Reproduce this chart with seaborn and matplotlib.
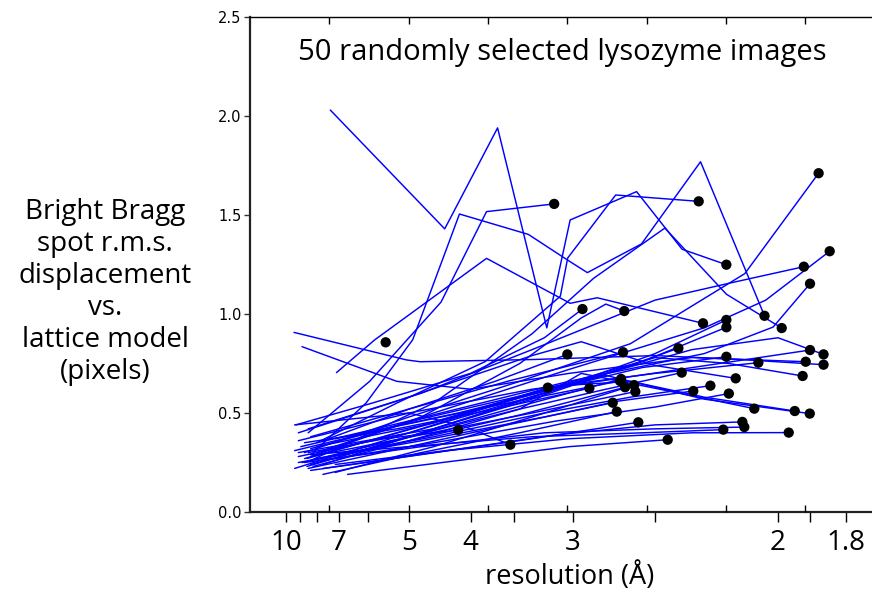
import matplotlib
matplotlib.use("Agg")
import matplotlib.pyplot as plt
import numpy as np
import pandas as pd
import seaborn as sns

# ---------------- data: (inverse resolution 1/Å, r.m.s. displacement px) ----------------
img01 = [(0.136, 2.03), (0.229, 1.43), (0.272, 1.94), (0.312, 0.93), (0.331, 1.475),
         (0.385, 1.618), (0.422, 1.327), (0.458, 1.249)]
img02 = [(0.118, 0.40), (0.168, 0.66), (0.226, 1.06), (0.263, 1.517), (0.318, 1.556)]
img03 = [(0.122, 0.30), (0.165, 0.55), (0.203, 0.87), (0.241, 1.505), (0.297, 1.402),
         (0.331, 1.264), (0.345, 1.209), (0.389, 1.354), (0.437, 1.769), (0.489, 0.991)]
img04 = [(0.125, 0.35), (0.190, 0.55), (0.262, 0.76), (0.323, 1.09), (0.329, 1.283),
         (0.368, 1.601), (0.4355, 1.569)]
img05 = [(0.141, 0.704), (0.172, 0.869), (0.263, 1.281), (0.331, 1.054), (0.353, 1.082),
         (0.439, 0.953)]
img06 = [(0.181, 0.857)]
img07 = [(0.115, 0.30), (0.200, 0.48), (0.290, 0.66), (0.380, 0.85), (0.473, 1.204), (0.533, 1.711)]
img08 = [(0.120, 0.28), (0.220, 0.50), (0.330, 0.72), (0.440, 0.93), (0.490, 1.07), (0.542, 1.317)]
img09 = [(0.118, 0.42), (0.210, 0.60), (0.300, 0.82), (0.400, 1.07), (0.460, 1.155), (0.521, 1.239)]
img10 = [(0.112, 0.33), (0.200, 0.46), (0.330, 0.66), (0.440, 0.80), (0.496, 0.934), (0.526, 1.153)]
img11 = [(0.108, 0.44), (0.170, 0.55), (0.250, 0.70), (0.310, 0.88), (0.341, 1.025)]
img12 = [(0.125, 0.30), (0.210, 0.48), (0.290, 0.75), (0.340, 0.98), (0.360, 1.05), (0.375, 1.015)]
img13 = [(0.110, 0.28), (0.200, 0.40), (0.320, 0.62), (0.400, 0.80), (0.458, 0.970)]
img14 = [(0.130, 0.24), (0.220, 0.42), (0.300, 0.57), (0.390, 0.76), (0.458, 0.933)]
img15 = [(0.120, 0.26), (0.220, 0.55), (0.300, 0.90), (0.350, 1.18), (0.408, 1.434),
         (0.458, 1.10), (0.503, 0.929)]
img16 = [(0.107, 0.22), (0.200, 0.40), (0.310, 0.62), (0.420, 0.72), (0.526, 0.818)]
img17 = [(0.115, 0.27), (0.220, 0.45), (0.320, 0.63), (0.430, 0.82), (0.500, 0.88), (0.537, 0.796)]
img18 = [(0.1065, 0.907), (0.198, 0.768), (0.209, 0.759), (0.300, 0.77), (0.400, 0.79),
         (0.470, 0.77), (0.537, 0.744)]
img19 = [(0.113, 0.835), (0.190, 0.66), (0.250, 0.62), (0.330, 0.70), (0.430, 0.78), (0.5225, 0.759)]
img20 = [(0.120, 0.32), (0.210, 0.47), (0.300, 0.60), (0.400, 0.78), (0.460, 0.75), (0.520, 0.687)]
img21 = [(0.110, 0.36), (0.200, 0.50), (0.300, 0.62), (0.400, 0.70), (0.484, 0.754)]
img22 = [(0.140, 0.37), (0.240, 0.50), (0.330, 0.64), (0.390, 0.73), (0.458, 0.784)]
img23 = [(0.117, 0.23), (0.210, 0.40), (0.300, 0.58), (0.370, 0.72), (0.419, 0.827)]
img24 = [(0.120, 0.38), (0.200, 0.52), (0.280, 0.66), (0.374, 0.807)]
img25 = [(0.130, 0.36), (0.200, 0.52), (0.270, 0.66), (0.3287, 0.796)]
img26 = [(0.113, 0.25), (0.200, 0.38), (0.290, 0.52), (0.360, 0.62), (0.4217, 0.704)]
img27 = [(0.110, 0.40), (0.190, 0.56), (0.300, 0.79), (0.340, 0.86), (0.400, 0.74), (0.4656, 0.675)]
img28 = [(0.120, 0.24), (0.190, 0.36), (0.270, 0.50), (0.3724, 0.672)]
img29 = [(0.107, 0.31), (0.180, 0.42), (0.280, 0.55), (0.3715, 0.662)]
img30 = [(0.140, 0.20), (0.220, 0.33), (0.300, 0.48), (0.383, 0.641)]
img31 = [(0.120, 0.28), (0.210, 0.39), (0.300, 0.50), (0.384, 0.608)]
img32 = [(0.115, 0.35), (0.190, 0.42), (0.270, 0.52), (0.3466, 0.625)]
img33 = [(0.110, 0.25), (0.210, 0.36), (0.310, 0.48), (0.370, 0.56), (0.4311, 0.611)]
img34 = [(0.125, 0.27), (0.220, 0.38), (0.310, 0.50), (0.380, 0.58), (0.445, 0.638)]
img35 = [(0.130, 0.26), (0.230, 0.36), (0.320, 0.46), (0.400, 0.53), (0.460, 0.598)]
img36 = [(0.118, 0.22), (0.200, 0.33), (0.280, 0.44), (0.3656, 0.552)]
img37 = [(0.130, 0.19), (0.210, 0.30), (0.290, 0.40), (0.3689, 0.507)]
img38 = [(0.120, 0.26), (0.200, 0.36), (0.290, 0.52), (0.340, 0.70), (0.420, 0.60), (0.4807, 0.522)]
img39 = [(0.110, 0.30), (0.220, 0.42), (0.330, 0.64), (0.380, 0.66), (0.440, 0.58), (0.5136, 0.510)]
img40 = [(0.125, 0.33), (0.220, 0.45), (0.310, 0.62), (0.360, 0.69), (0.440, 0.57), (0.5258, 0.497)]
img41 = [(0.120, 0.21), (0.210, 0.29), (0.300, 0.37), (0.3864, 0.453)]
img42 = [(0.130, 0.22), (0.220, 0.30), (0.320, 0.39), (0.400, 0.44), (0.471, 0.455)]
img43 = [(0.115, 0.25), (0.210, 0.33), (0.310, 0.40), (0.400, 0.42), (0.4726, 0.429)]
img44 = [(0.120, 0.29), (0.200, 0.33), (0.300, 0.38), (0.390, 0.40), (0.4555, 0.416)]
img45 = [(0.140, 0.24), (0.230, 0.31), (0.330, 0.37), (0.430, 0.40), (0.5087, 0.401)]
img46 = [(0.150, 0.19), (0.240, 0.26), (0.330, 0.33), (0.4103, 0.365)]
img47 = [(0.118, 0.30), (0.180, 0.37), (0.240, 0.414)]
img48 = [(0.107, 0.44), (0.200, 0.50), (0.244, 0.434), (0.2824, 0.340)]
img49 = [(0.117, 0.27), (0.190, 0.40), (0.250, 0.51), (0.3128, 0.628)]
img50 = [(0.122, 0.23), (0.200, 0.36), (0.290, 0.49), (0.3756, 0.630)]

images = [img01, img02, img03, img04, img05, img06, img07, img08, img09, img10,
          img11, img12, img13, img14, img15, img16, img17, img18, img19, img20,
          img21, img22, img23, img24, img25, img26, img27, img28, img29, img30,
          img31, img32, img33, img34, img35, img36, img37, img38, img39, img40,
          img41, img42, img43, img44, img45, img46, img47, img48, img49, img50]

res_labels = [10, 7, 5, 4, 3, 2, 1.8]          # Å, labelled ticks
res_minor = [9, 8, 6, 3.5, 2.5, 1.9]           # Å, unlabelled ticks
inner_ticks = [0.135, 0.1997, 0.2642, 0.3287, 0.3932, 0.4577, 0.5222]  # 1/Å
y_ticks = [0.0, 0.5, 1.0, 1.5, 2.0, 2.5]

title = "50 randomly selected lysozyme images"
ylab = "Bright Bragg\nspot r.m.s.\ndisplacement\nvs.\nlattice model\n(pixels)"
xlab = "resolution (Å)"

# ---------------- build tables ----------------
rows = []
for i, pts in enumerate(images):
    for j, (xv, yv) in enumerate(pts):
        rows.append({"image": i, "order": j, "inv_res": xv, "rms": yv})
df = pd.DataFrame(rows)
ends = df.sort_values("order").groupby("image").tail(1)

sns.set_theme(style="white")
plt.rcParams["font.family"] = ["DejaVu Sans"]
plt.rcParams["text.color"] = "black"
plt.rcParams["xtick.color"] = "black"
plt.rcParams["ytick.color"] = "black"
plt.rcParams["axes.labelcolor"] = "black"
label_font = "Open Sans"

fig = plt.figure(figsize=(8.72, 5.92), dpi=100)
ax = fig.add_axes([250 / 872, 80 / 592, 622 / 872, 495 / 592])

sns.lineplot(data=df, x="inv_res", y="rms", units="image", estimator=None, sort=False,
             color="#0000ff", linewidth=1.05, ax=ax, legend=False)
sns.scatterplot(data=ends, x="inv_res", y="rms", color="black", s=55, edgecolor="none",
                ax=ax, legend=False, zorder=5)

ax.set_xlim(0.0707, 0.5764)
ax.set_ylim(0, 2.5)
ax.set_xlabel("")
ax.set_ylabel("")

ax.set_xticks([1 / d for d in res_labels])
ax.set_xticklabels([f"{d:g}" for d in res_labels], family=label_font, fontsize=20,
                   color="black")
ax.set_xticks([1 / d for d in res_minor], minor=True)
ax.tick_params(axis="x", which="both", direction="out", length=7, width=1.0,
               bottom=True, top=False, pad=5, color="black")

ax.set_yticks(y_ticks)
ax.set_yticklabels([f"{v:.1f}" for v in y_ticks], fontsize=10.5, color="black")
ax.tick_params(axis="y", which="major", direction="out", length=4, width=1.0,
               left=True, right=False, pad=2, color="#333333")

for side in ["left", "bottom"]:
    ax.spines[side].set_visible(True)
    ax.spines[side].set_color("#222222")
    ax.spines[side].set_linewidth(1.6)
ax.spines["top"].set_visible(True)
ax.spines["top"].set_color("black")
ax.spines["top"].set_linewidth(1.0)
ax.spines["right"].set_visible(False)

ax2 = ax.twiny()
ax2.set_xlim(ax.get_xlim())
ax2.set_xticks(inner_ticks)
ax2.tick_params(axis="x", which="major", direction="in", length=5, width=1.0,
                top=True, bottom=True, labeltop=False, labelbottom=False, color="black")
for s in ax2.spines.values():
    s.set_visible(False)

ax.text(0.5024, 0.929, title, transform=ax.transAxes, ha="center", va="center",
        family=label_font, fontsize=21, color="black")
fig.text(105 / 872, 1 - 292 / 592, ylab, ha="center", va="center", multialignment="center",
         family=label_font, fontsize=20, linespacing=1.2, color="black")
fig.text(570 / 872, 1 - 577 / 592, xlab, ha="center", va="center",
         family=label_font, fontsize=19.5, color="black")

fig.savefig("out.png", dpi=100)
